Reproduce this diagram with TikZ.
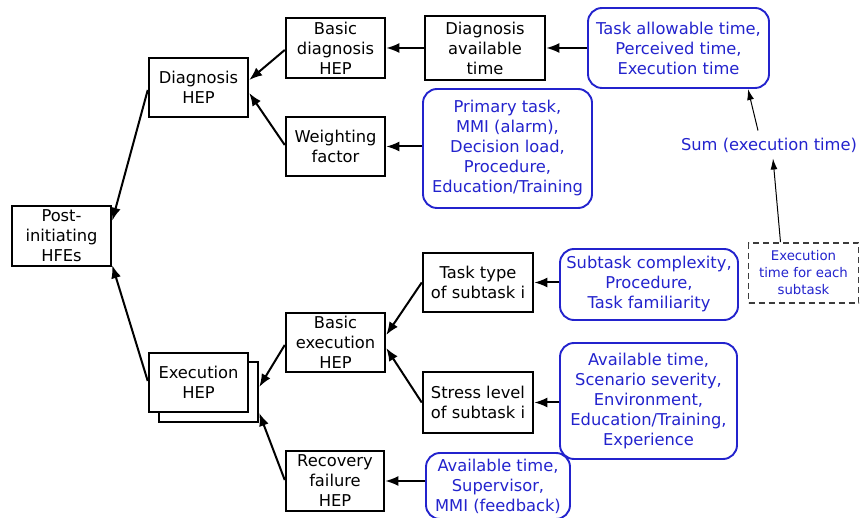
\documentclass[tikz,border=0pt]{standalone}
\usepackage{fontspec}
\setmainfont{DejaVu Sans}
\usetikzlibrary{arrows.meta}
\definecolor{bluec}{RGB}{35,35,205}
\definecolor{dashc}{RGB}{60,60,60}
\begin{document}
\begin{tikzpicture}[x=1pt,y=-1pt,
  font=\fontsize{16.3}{20}\selectfont,
  bbox/.style={draw=black, line width=2.5pt, fill=white, align=center, inner sep=0pt},
  blbox/.style={draw=bluec, line width=1.9pt, rounded corners=14pt, align=center, inner sep=0pt, text=bluec},
  dbox/.style={draw=dashc, line width=1.6pt, dash pattern=on 6pt off 4pt, align=center, inner sep=0pt, text=bluec, font=\fontsize{13.3}{17}\selectfont},
  arr/.style={line width=2pt, -{Latex[length=13pt,width=10pt]}},
  tarr/.style={line width=1pt, -{Latex[length=11pt,width=7pt]}}]
\useasboundingbox (0,0) rectangle (860,518);
% black boxes
\node[bbox, minimum width=99pt, minimum height=60pt] (post) at (61.5,236) {Post-\\initiating\\HFEs};
\node[bbox, minimum width=99pt, minimum height=59pt] (dhep) at (198.5,87.5) {Diagnosis\\HEP};
\node[bbox, minimum width=99pt, minimum height=60pt] (bdhep) at (335.5,48) {Basic\\diagnosis\\HEP};
\node[bbox, minimum width=99pt, minimum height=59pt] (wf) at (335.5,146.5) {Weighting\\factor};
\node[bbox, minimum width=120pt, minimum height=64pt] (dat) at (485,48) {Diagnosis\\available\\time};
\node[bbox, minimum width=99pt, minimum height=60pt] (ehb) at (208.5,392) {};
\node[bbox, minimum width=99pt, minimum height=59pt] (eh) at (198.5,382.5) {Execution\\HEP};
\node[bbox, minimum width=99pt, minimum height=59pt] (beh) at (335.5,342.5) {Basic\\execution\\HEP};
\node[bbox, minimum width=98pt, minimum height=60pt] (rf) at (335,481) {Recovery\\failure\\HEP};
\node[bbox, minimum width=110pt, minimum height=59pt] (tt) at (478,282.5) {Task type\\of subtask i};
\node[bbox, minimum width=110pt, minimum height=61pt] (sl) at (478,402.5) {Stress level\\of subtask i};
% blue boxes
\node[blbox, minimum width=181pt, minimum height=80pt] (tat) at (678.5,48) {Task allowable time,\\Perceived time,\\Execution time};
\node[blbox, minimum width=169pt, minimum height=119pt] (pt) at (507.5,148.5) {Primary task,\\MMI (alarm),\\Decision load,\\Procedure,\\Education/Training};
\node[blbox, minimum width=178pt, minimum height=71pt] (sc) at (649,284.5) {Subtask complexity,\\Procedure,\\Task familiarity};
\node[blbox, minimum width=177pt, minimum height=116pt] (at) at (648.5,401) {Available time,\\Scenario severity,\\Environment,\\Education/Training,\\Experience};
\node[blbox, minimum width=144pt, minimum height=66pt] (as) at (498,486) {Available time,\\Supervisor,\\MMI (feedback)};
% sum and dashed box
\node[text=bluec, inner sep=0pt] (sum) at (769,145) {Sum (execution time)};
\node[dbox, minimum width=110pt, minimum height=60pt] (etes) at (803.5,273) {Execution\\time for each\\subtask};
% connectors
\draw[arr] ([yshift=-2.5pt]dhep.west) -- ([yshift=-16pt]post.north east);
\draw[arr] ([yshift=1.5pt]eh.west) -- ([yshift=2pt]post.south east);
\draw[arr] ([yshift=-2pt]bdhep.west) -- ([yshift=7.5pt]dhep.east);
\draw[arr] ([yshift=1.5pt]wf.west) -- ([yshift=-5.5pt]dhep.east);
\draw[arr] (dat.west) -- (bdhep.east);
\draw[arr] (tat.west) -- (dat.east);
\draw[arr] (pt.west |- wf.east) -- (wf.east);
\draw[tarr] ([shift={(-11pt,7pt)}]sum.north) -- ([xshift=-22pt]tat.south east);
\draw[tarr] ([xshift=-23pt]etes.north) -- ([shift={(4pt,-6pt)}]sum.south);
\draw[arr] ([yshift=-2.5pt]beh.west) -- ([yshift=5pt]ehb.east);
\draw[arr] ([yshift=1pt]rf.west) -- ([yshift=-21pt]ehb.east);
\draw[arr] (tt.west) -- ([yshift=7.5pt]beh.east);
\draw[arr] (sl.west) -- ([yshift=-5.5pt]beh.east);
\draw[arr] (sc.west |- tt.east) -- (tt.east);
\draw[arr] (at.west |- sl.east) -- (sl.east);
\draw[arr] (as.west |- rf.east) -- (rf.east);
\end{tikzpicture}
\end{document}
